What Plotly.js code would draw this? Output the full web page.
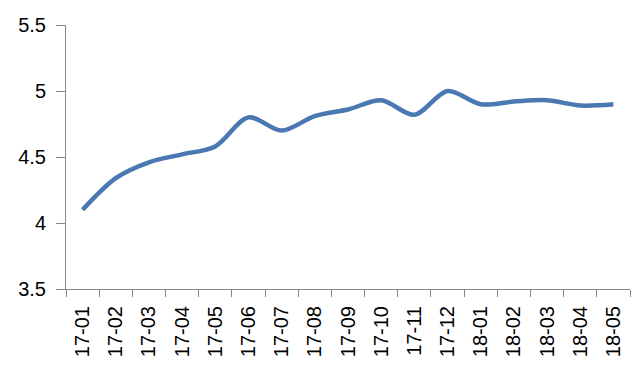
<!DOCTYPE html>
<html>
<head>
<meta charset="utf-8">
<script src="https://cdn.plot.ly/plotly-3.0.1.min.js"></script>
<style>html,body{margin:0;padding:0;background:#fff;}#chart{width:639px;height:377px;}</style>
</head>
<body>
<div id="chart"></div>
<script>
var months = ["17-01","17-02","17-03","17-04","17-05","17-06","17-07","17-08","17-09","17-10","17-11","17-12","18-01","18-02","18-03","18-04","18-05"];
var values = [4.10,4.34,4.46,4.52,4.58,4.80,4.70,4.81,4.86,4.93,4.82,5.00,4.90,4.92,4.93,4.89,4.90];
var yTicks = [3.5,4,4.5,5,5.5];
var FONT = "'Liberation Sans', Arial, sans-serif";

Plotly.newPlot("chart", [{
  type: "scatter",
  mode: "lines",
  x: months,
  y: values,
  line: {color: "#4a78b2", width: 4.5, shape: "spline", smoothing: 0.9},
  hoverinfo: "x+y"
}], {
  width: 639, height: 377,
  margin: {l: 66, r: 9, t: 25, b: 88},
  paper_bgcolor: "#ffffff",
  plot_bgcolor: "#ffffff",
  showlegend: false,
  font: {family: FONT, size: 20, color: "#000"},
  xaxis: {
    type: "category",
    range: [-0.5, 16.5],
    tickangle: -90,
    ticks: "outside",
    tickson: "boundaries",
    ticklen: 7,
    tickcolor: "#888",
    showline: true,
    linecolor: "#888",
    linewidth: 1,
    showgrid: false,
    zeroline: false,
    ticklabelstandoff: 8,
    tickfont: {family: FONT, size: 20, color: "#000"}
  },
  yaxis: {
    range: [3.5, 5.5],
    tickvals: yTicks,
    ticktext: yTicks.map(String),
    ticks: "outside",
    ticklen: 9,
    tickcolor: "#888",
    showline: true,
    linecolor: "#888",
    linewidth: 1,
    showgrid: false,
    zeroline: false,
    ticklabelstandoff: 6,
    tickfont: {family: FONT, size: 20, color: "#000"}
  }
}, {displayModeBar: false, staticPlot: true});
</script>
</body>
</html>
